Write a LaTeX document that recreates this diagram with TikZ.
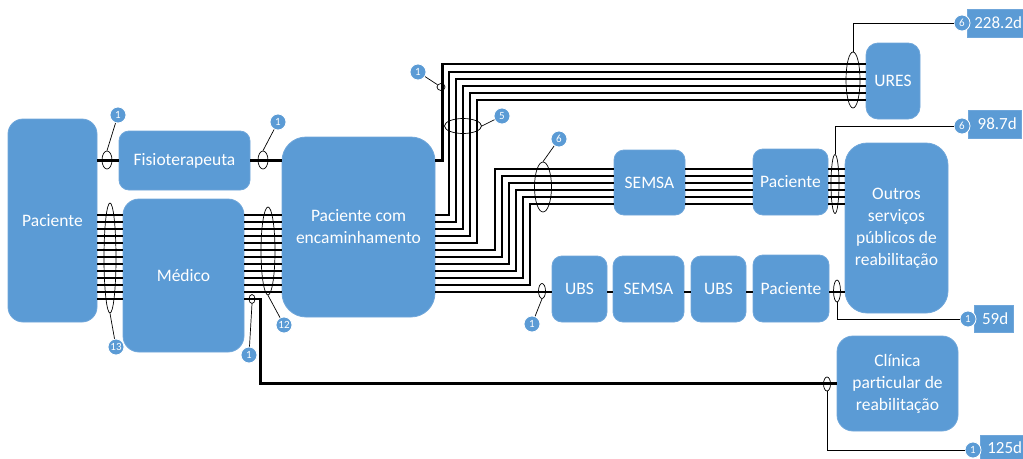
\documentclass[tikz,border=0pt]{standalone}
\usepackage{fontspec}
\setmainfont{Carlito}
\usepackage{tikz}
\usetikzlibrary{shapes.geometric}
\definecolor{boxblue}{HTML}{5B9BD5}
\definecolor{boxedge}{HTML}{6FA6DA}

\begin{document}
\begin{tikzpicture}[x=1pt,y=-1pt,
    blk/.style={draw=boxedge,fill=boxblue,text=white,align=center,inner sep=0pt,line width=0.8pt,rounded corners=10pt,font=\fontsize{17.5}{22}\selectfont},
    wire/.style={line width=2.8pt},
    lead/.style={line width=0.7pt},
    bund/.style={draw,ellipse,line width=0.7pt,inner sep=0pt},
    num/.style={circle,fill=boxblue,draw=white,line width=0.8pt,text=white,inner sep=0pt,minimum size=16pt,font=\fontsize{11}{11}\selectfont},
    days/.style={fill=boxblue,draw=boxedge,text=white,anchor=west,inner sep=0pt,minimum height=28pt,font=\fontsize{17}{17}\selectfont}]
  \useasboundingbox (0,0) rectangle (1023,458);

  \node[blk,minimum width=89,minimum height=203,rounded corners=15pt] (pac) at (52.5,220.5) {Paciente};
  \node[blk,minimum width=131,minimum height=59] (fis) at (184.5,160.5) {Fisioterapeuta};
  \node[blk,minimum width=121,minimum height=153,rounded corners=16pt] (med) at (183.5,275.5) {Médico};
  \node[blk,minimum width=153,minimum height=180,rounded corners=24pt] (pcom) at (358.5,227) {Paciente com\\encaminhamento};
  \node[blk,minimum width=54,minimum height=76,rounded corners=12pt] (ures) at (893,81) {URES};
  \node[blk,minimum width=71,minimum height=65] (sem1) at (649.5,182.5) {SEMSA};
  \node[blk,minimum width=75,minimum height=66] (pac2) at (790.5,182) {Paciente};
  \node[blk,minimum width=103,minimum height=170,rounded corners=22pt] (out) at (896.5,228) {Outros\\serviços\\públicos de\\reabilitação};
  \node[blk,minimum width=55,minimum height=66] (ubs1) at (579.5,289) {UBS};
  \node[blk,minimum width=71,minimum height=66] (sem2) at (648.5,289) {SEMSA};
  \node[blk,minimum width=55,minimum height=66] (ubs2) at (718.5,289) {UBS};
  \node[blk,minimum width=76,minimum height=67] (pac3) at (791,288.5) {Paciente};
  \node[blk,minimum width=121,minimum height=95,rounded corners=16pt] (clin) at (897.5,383.5) {Clínica\\particular de\\reabilitação};

  \draw[wire] (pac.east |- fis.west) -- (fis.west) (fis.east) -- (fis.east -| pcom.west);
  \foreach \i [evaluate=\i as \y using 215+7*\i] in {0,...,12}
    \draw[wire] (pac.east |- 0,\y) -- (med.west |- 0,\y);
  \foreach \i [evaluate=\i as \y using 215+7*\i] in {0,...,11}
    \draw[wire] (med.east |- 0,\y) -- (pcom.west |- 0,\y);
  \draw[wire] (med.east |- 0,299) -- ++(16,0) |- (clin.west);
  \draw[wire] (pcom.east |- fis.east) -- ++(7,0) |- (ures.west |- 0,64);
  \foreach \i [evaluate=\i as \y using 215+7*\i, evaluate=\i as \xc using 449+7*\i, evaluate=\i as \yt using 72+7*\i] in {0,...,4}
    \draw[wire] (pcom.east |- 0,\y) -| (\xc,\yt) -- (ures.west |- 0,\yt);
  \foreach \i [evaluate=\i as \y using 215+7*\i, evaluate=\i as \xc using 460+7*\i, evaluate=\i as \yt using 134+7*\i] in {5,...,10}
    \draw[wire] (pcom.east |- 0,\y) -| (\xc,\yt) -- (sem1.west |- 0,\yt)
      (sem1.east |- 0,\yt) -- (pac2.west |- 0,\yt)
      (pac2.east |- 0,\yt) -- (out.west |- 0,\yt);
  \draw[wire] (pcom.east |- 0,292) -- (ubs1.west |- 0,292)
    (ubs1.east |- 0,292) -- (sem2.west |- 0,292)
    (sem2.east |- 0,292) -- (ubs2.west |- 0,292)
    (ubs2.east |- 0,292) -- (pac3.west |- 0,292)
    (pac3.east |- 0,292) -- (out.west |- 0,292);

  \node[bund,minimum width=10,minimum height=18] (e1) at (107,160) {};
  \node[bund,minimum width=10,minimum height=18] (e2) at (263,160) {};
  \node[bund,minimum width=12,minimum height=110] (e13) at (110,258) {};
  \node[bund,minimum width=14,minimum height=88] (e12) at (268,251) {};
  \node[bund,minimum width=6,minimum height=9] (e1b) at (252,299) {};
  \node[bund,minimum width=8,minimum height=7] (e1c) at (441,87) {};
  \node[bund,minimum width=37,minimum height=15] (e5) at (463,126) {};
  \node[bund,minimum width=17,minimum height=50] (e6) at (543,187) {};
  \node[bund,minimum width=7,minimum height=15] (e1d) at (542,291) {};
  \node[bund,minimum width=14,minimum height=56] (eu) at (853,80) {};
  \node[bund,minimum width=8,minimum height=59] (eo1) at (835,184) {};
  \node[bund,minimum width=7,minimum height=22] (eo2) at (837,291) {};
  \node[bund,minimum width=7,minimum height=14] (ecl) at (827,384) {};

  \node[num] (n1) at (118,115) {1};
  \node[num] (n2) at (278,122) {1};
  \node[num] (n13) at (116,347) {13};
  \node[num] (n12) at (284,325) {12};
  \node[num] (n1b) at (249,355) {1};
  \node[num] (n1c) at (418,72) {1};
  \node[num] (n5) at (502,116) {5};
  \node[num] (n6) at (559,139) {6};
  \node[num] (n1d) at (532,324) {1};
  \draw[lead] (n1) -- (e1.north) (n2) -- (e2.north) (n13) -- (e13.south) (n12) -- (e12.south)
    (n1b) -- (e1b.south) (n1c) -- (e1c) (n5) -- (e5.east) (n6) -- (e6.north) (n1d) -- (e1d.south);

  \node[days,minimum width=58] (d228) at (967,23) {\hspace{4pt}228.2d};
  \node[days,minimum width=53] (d98) at (968,124) {\hspace{5pt}98.7d};
  \node[days,minimum width=39,minimum height=27] (d59) at (974,318.5) {\hspace{3pt}59d};
  \node[days,minimum width=46,minimum height=26] (d125) at (980,448) {\hspace{3pt}125d};
  \node[num] (c228) at (962,23) {6};
  \node[num] (c98) at (962,126) {6};
  \node[num] (c59) at (968,319) {1};
  \node[num] (c125) at (973,450) {1};
  \draw[lead] (eu.north) |- (c228.west) (eo1.north) |- (c98.west)
    (eo2.south) |- (c59.west) (ecl.south) |- (c125.west);
\end{tikzpicture}
\end{document}
